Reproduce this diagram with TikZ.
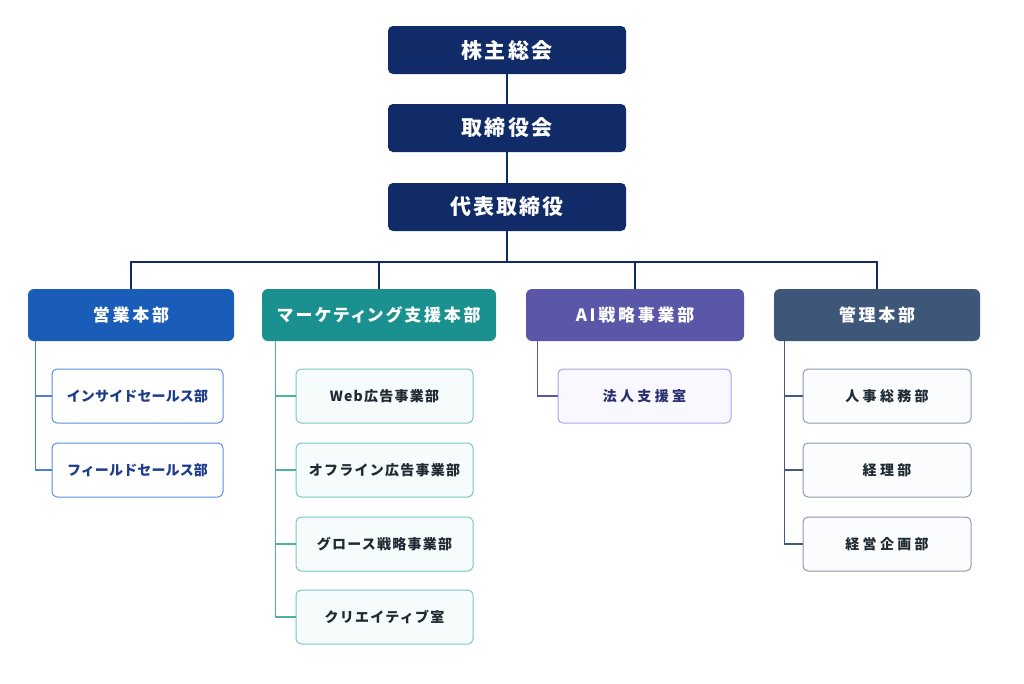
\documentclass[tikz,border=0pt]{standalone}
\usepackage{fontspec}
\setmainfont{Noto Sans CJK JP}
\usepackage{tikz}

\definecolor{navy}{HTML}{112A68}
\definecolor{salesblue}{HTML}{1A5DB8}
\definecolor{mktteal}{HTML}{1B918F}
\definecolor{aipurple}{HTML}{5A56A8}
\definecolor{adminslate}{HTML}{3E5778}
\definecolor{salesedge}{HTML}{5B8FE0}
\definecolor{salestext}{HTML}{1D3C8C}
\definecolor{salesspine}{HTML}{4A7FD4}
\definecolor{mktedge}{HTML}{7CC6C2}
\definecolor{mktfill}{HTML}{F6FBFB}
\definecolor{mktspine}{HTML}{4DB0AB}
\definecolor{aiedge}{HTML}{ABA5E8}
\definecolor{aifill}{HTML}{F8F8FE}
\definecolor{aitext}{HTML}{2A2E6E}
\definecolor{adminedge}{HTML}{8D9BB2}
\definecolor{adminfill}{HTML}{FBFCFD}
\definecolor{adminspine}{HTML}{45597A}
\definecolor{darktext}{HTML}{1F2A33}

\tikzset{
  topbox/.style={draw=none, fill=navy, text=white, rounded corners=5pt,
    minimum width=238pt, minimum height=48pt, inner sep=0pt,
    font=\fontsize{21}{21}\selectfont\bfseries\addfontfeature{LetterSpace=10}},
  deptbox/.style={draw=none, fill=#1, text=white, rounded corners=6pt,
    minimum height=52pt, inner sep=0pt,
    font=\fontsize{17}{17}\selectfont\bfseries\addfontfeature{LetterSpace=16,RawFeature=+palt}},
  subbox/.style={rounded corners=5pt, line width=1pt,
    minimum height=54pt, inner sep=0pt,
    font=\fontsize{14}{14}\selectfont\bfseries\addfontfeature{LetterSpace=#1}},
  salessub/.style={subbox=1, draw=salesedge, fill=white, text=salestext, minimum width=171pt},
  mktsub/.style={subbox=9, draw=mktedge, fill=mktfill, text=darktext, minimum width=177pt},
  aisub/.style={subbox=24, draw=aiedge, fill=aifill, text=aitext, minimum width=173pt},
  adminsub/.style={subbox=24, draw=adminedge, fill=adminfill, text=darktext, minimum width=168pt},
  link/.style={draw=navy, line width=1.3pt},
  spine/.style={draw=#1, line width=1.3pt},
}

\begin{document}
\begin{tikzpicture}[x=1pt, y=-1pt]
    \useasboundingbox[fill=white] (0,0) rectangle (1024,683);

    % top of the organisation
    \node[topbox] (meeting) at (507,50) {株主総会};
    \node[topbox] (board) at (507,128) {取締役会};
    \node[topbox] (ceo) at (507,207) {代表取締役};
    \coordinate (bus) at (0,262);

    % departments
    \node[deptbox=salesblue, minimum width=206pt] (sales) at (131,315) {営業本部};
    \node[deptbox=mktteal, minimum width=234pt] (mkt) at (379,315) {マーケティング支援本部};
    \node[deptbox=aipurple, minimum width=218pt] (ai) at (635,315) {AI戦略事業部};
    \node[deptbox=adminslate, minimum width=206pt] (admin) at (877,315) {管理本部};

    % sections
    \node[salessub] (isales) at (137.5,396) {インサイドセールス部};
    \node[salessub] (fsales) at (137.5,470) {フィールドセールス部};

    \node[mktsub] (webad) at (384.5,396) {Web広告事業部};
    \node[mktsub] (offad) at (384.5,470) {オフライン広告事業部};
    \node[mktsub] (growth) at (384.5,544) {グロース戦略事業部};
    \node[mktsub] (creative) at (384.5,617) {クリエイティブ室};

    \node[aisub] (corp) at (644.5,396) {法人支援室};

    \node[adminsub] (hr) at (887,396) {人事総務部};
    \node[adminsub] (acct) at (887,470) {経理部};
    \node[adminsub] (plan) at (887,544) {経営企画部};

    % connectors
    \draw[link] (meeting) -- (board);
    \draw[link] (board) -- (ceo);
    \draw[link] (ceo) -- (ceo |- bus);
    \draw[link] (sales.north) |- (admin.north |- bus) -- (admin.north);
    \draw[link] (mkt.north) -- (mkt.north |- bus);
    \draw[link] (ai.north) -- (ai.north |- bus);

    \draw[spine=salesspine] ([xshift=8pt]sales.south west) |- (isales.west);
    \draw[spine=salesspine] ([xshift=8pt]sales.south west) |- (fsales.west);

    \draw[spine=mktspine] ([xshift=14pt]mkt.south west) |- (webad.west);
    \draw[spine=mktspine] ([xshift=14pt]mkt.south west) |- (offad.west);
    \draw[spine=mktspine] ([xshift=14pt]mkt.south west) |- (growth.west);
    \draw[spine=mktspine] ([xshift=14pt]mkt.south west) |- (creative.west);

    \draw[spine=aipurple] ([xshift=12pt]ai.south west) |- (corp.west);

    \draw[spine=adminspine] ([xshift=11pt]admin.south west) |- (hr.west);
    \draw[spine=adminspine] ([xshift=11pt]admin.south west) |- (acct.west);
    \draw[spine=adminspine] ([xshift=11pt]admin.south west) |- (plan.west);
\end{tikzpicture}
\end{document}
